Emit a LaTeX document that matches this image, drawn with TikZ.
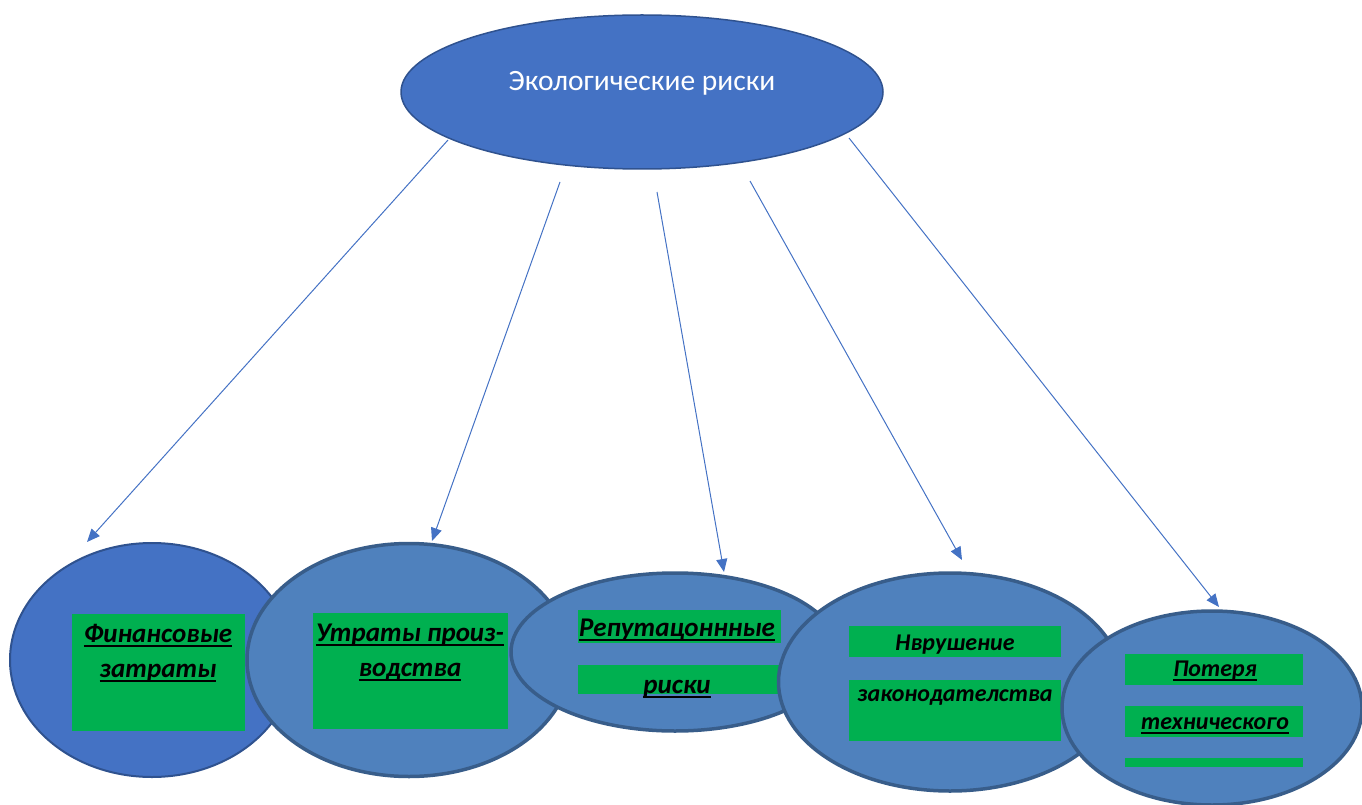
\documentclass[tikz,border=0pt]{standalone}
\usepackage{fontspec}
\setmainfont{Carlito}
\usetikzlibrary{arrows.meta,shapes.geometric}
\newcommand\myul[1]{\setbox0\hbox{#1}\rlap{\rule[-4.5pt]{\wd0}{1.8pt}}\box0}
\definecolor{topblue}{HTML}{4472C4}
\definecolor{topedge}{HTML}{2F528F}
\definecolor{midblue}{HTML}{4F81BD}
\definecolor{midedge}{HTML}{385D8A}
\definecolor{grn}{HTML}{00B050}
\tikzset{
  oval/.style={ellipse, inner sep=0pt, fill=midblue, draw=midedge, line width=3.5pt},
  lbl/.style={font=\fontsize{27}{31}\selectfont\bfseries\itshape, text=black, inner sep=0pt, anchor=base},
  small/.style={font=\fontsize{24}{28}\selectfont\bfseries\itshape},
  conn/.style={draw=topblue, line width=1pt, -{Triangle[length=13pt,width=11pt]}}
}
\begin{document}
\begin{tikzpicture}[x=1pt,y=-1pt]
\useasboundingbox (0,0) rectangle (1362,805);
\clip (0,0) rectangle (1362,805);
% top
\node[ellipse, inner sep=0pt, minimum width=482pt, minimum height=154pt, fill=topblue, draw=topedge, line width=1.5pt] (top) at (642,92) {};
\node[font=\fontsize{29.5}{33}\selectfont, text=white, anchor=base] (toplbl) at (642,91) {Экологические риски};
% ellipse 1
\node[ellipse, inner sep=0pt, minimum width=284pt, minimum height=234pt, fill=topblue, draw=topedge, line width=2pt] (e1) at (152,660) {};
\fill[grn] (72,614) rectangle (245,731);
\node[lbl] (t1a) at (158,642) {\myul{Финансовые}};
\node[lbl] (t1b) at (158,677) {\myul{затраты}};
% ellipse 2
\node[oval, minimum width=324pt, minimum height=233pt] (e2) at (409,660) {};
\fill[grn] (313,613) rectangle (508,729);
\node[lbl] (t2a) at (410,641) {\myul{Утраты произ-}};
\node[lbl] (t2b) at (410,676) {\myul{водства}};
% ellipse 3
\node[oval, minimum width=328pt, minimum height=158pt] (e3) at (675,652) {};
\fill[grn] (578,610) rectangle (781,643);
\fill[grn] (578,665) rectangle (781,694);
\node[lbl] (t3a) at (677,636) {\myul{Репутацоннные}};
\node[lbl] (t3b) at (677,693) {\myul{риски}};
% ellipse 4
\node[oval, minimum width=343pt, minimum height=218pt] (e4) at (950,682) {};
\fill[grn] (849,626) rectangle (1061,657);
\fill[grn] (849,680) rectangle (1061,741);
\node[lbl, small] (t4a) at (955,650) {Нврушение};
\node[lbl, small] (t4b) at (955,701) {законодателства};
% ellipse 5
\node[oval, minimum width=300pt, minimum height=194pt] (e5) at (1212,708) {};
\fill[grn] (1125,654) rectangle (1303,685);
\fill[grn] (1125,706) rectangle (1303,737);
\fill[grn] (1125,758) rectangle (1303,767);
\node[lbl, small] (t5a) at (1215,676) {\myul{Потеря}};
\node[lbl, small] (t5b) at (1215,729) {\myul{технического}};
% connectors
\coordinate (s1) at (448,140);
\coordinate (s2) at (560,182);
\coordinate (s3) at (657,192);
\coordinate (s4) at (750,181);
\coordinate (s5) at (849,138);
\coordinate (h1) at (87,542);
\coordinate (h2) at (432,541);
\coordinate (h3) at (724,572);
\coordinate (h4) at (962,560);
\coordinate (h5) at (1219,607);
\draw[conn] (s1) -- (h1);
\draw[conn] (s2) -- (h2);
\draw[conn] (s3) -- (h3);
\draw[conn] (s4) -- (h4);
\draw[conn] (s5) -- (h5);
\end{tikzpicture}
\end{document}
